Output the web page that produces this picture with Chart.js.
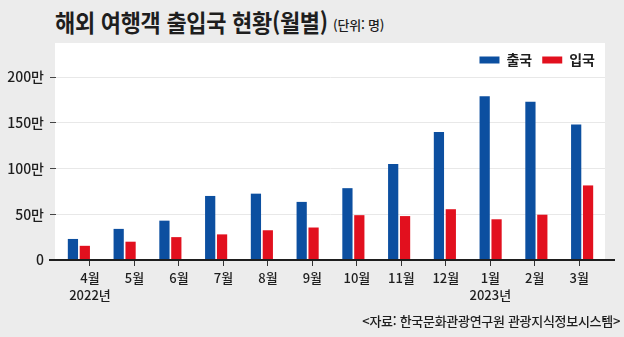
<!DOCTYPE html>
<html lang="ko">
<head>
<meta charset="utf-8">
<title>해외 여행객 출입국 현황(월별)</title>
<script src="https://cdn.jsdelivr.net/npm/chart.js@4.4.1/dist/chart.umd.min.js"></script>
<style>
  html, body { margin: 0; padding: 0; }
  body { width: 624px; height: 337px; background: #ececec; position: relative; overflow: hidden;
         font-family: "Noto Sans CJK KR", "Noto Sans", sans-serif; color: #1e1e1e; }
  #chart { position: absolute; left: 0; top: 0; }
  .title { position: absolute; left: 55px; top: 7px; font-size: 24px; font-weight: 700; line-height: 30px;
           white-space: nowrap; transform: scaleX(0.915); transform-origin: left top; letter-spacing: -0.3px; }
  .unit { position: absolute; left: 333px; top: 16px; font-size: 13px; font-weight: 500; line-height: 18px;
          white-space: nowrap; letter-spacing: -0.2px; }
  .source { position: absolute; right: 4px; top: 312px; font-size: 13px; font-weight: 500; line-height: 18px;
            white-space: nowrap; letter-spacing: -0.3px; }
</style>
</head>
<body>
<div class="title">해외 여행객 출입국 현황(월별)</div>
<div class="unit">(단위: 명)</div>
<canvas id="chart" width="624" height="337"></canvas>
<div class="source">&lt;자료: 한국문화관광연구원 관광지식정보시스템&gt;</div>
<script>
// Monthly categories, April 2022 – March 2023
const months = ['4월', '5월', '6월', '7월', '8월', '9월', '10월', '11월', '12월', '1월', '2월', '3월'];
// Year marker shown under the first month of each year
const yearLabels = ['2022년', '', '', '', '', '', '', '', '', '2023년', '', ''];
// Travellers (persons)
const departures = [230000, 340000, 430000, 700000, 725000, 635000, 785000, 1050000, 1400000, 1790000, 1730000, 1480000];
const arrivals   = [155000, 200000, 250000, 280000, 325000, 355000, 490000, 480000, 555000, 445000, 495000, 815000];
// Value axis ticks, in persons
const valueTicks = [0, 500000, 1000000, 1500000, 2000000];

const BLUE = '#0c4fa0';
const RED = '#e2101e';
const INK = '#1e1e1e';
const FONT = '"Noto Sans CJK KR", "Noto Sans", sans-serif';

// White panel behind the plot and the legend
const panelPlugin = {
  id: 'panel',
  beforeDraw(chart) {
    const { ctx, chartArea } = chart;
    const top = chart.options.layout.padding.top;
    ctx.save();
    ctx.fillStyle = '#ffffff';
    ctx.fillRect(chartArea.left - 1, top, chartArea.right - chartArea.left + 1, chartArea.bottom - top);
    ctx.restore();
  }
};

// Dark base line at zero, running a little past the panel on both sides
const baselinePlugin = {
  id: 'baseline',
  afterDatasetsDraw(chart) {
    const { ctx, chartArea, scales } = chart;
    const y = Math.round(scales.y.getPixelForValue(0));
    ctx.save();
    ctx.strokeStyle = INK;
    ctx.lineWidth = 2;
    ctx.beginPath();
    ctx.moveTo(chartArea.left - 7, y);
    ctx.lineTo(chartArea.right + 10, y);
    ctx.stroke();
    ctx.restore();
  }
};

new Chart(document.getElementById('chart'), {
  type: 'bar',
  data: {
    labels: months,
    datasets: [
      { label: '출국', data: departures, backgroundColor: BLUE },
      { label: '입국', data: arrivals, backgroundColor: RED }
    ]
  },
  options: {
    responsive: false,
    animation: false,
    devicePixelRatio: 1,
    layout: { padding: { top: 43, right: 19, bottom: 0, left: 0 } },
    datasets: { bar: { categoryPercentage: 0.52, barPercentage: 0.86 } },
    plugins: {
      legend: {
        position: 'top',
        align: 'end',
        labels: {
          boxWidth: 20,
          boxHeight: 7,
          padding: 10,
          color: INK,
          font: { family: FONT, size: 14, weight: 'bold' }
        }
      },
      tooltip: { enabled: false },
      title: { display: false }
    },
    scales: {
      x: {
        type: 'category',
        display: false
      },
      // Month axis: its own evenly spaced ticks under the bar pairs
      x2: {
        type: 'linear',
        position: 'bottom',
        offset: false,
        min: -0.764,
        max: 11.578,
        afterFit(scale) { scale.height = 77; },
        border: { display: false },
        grid: { offset: false, drawOnChartArea: false, drawTicks: true, tickLength: 6, tickColor: '#333', tickWidth: 1 },
        ticks: {
          stepSize: 1,
          includeBounds: false,
          autoSkip: false,
          maxRotation: 0,
          padding: 4,
          color: INK,
          font: { family: FONT, size: 13, weight: '500', lineHeight: 1.3 },
          callback(v) {
            if (!Number.isInteger(v) || v < 0 || v >= months.length) return '';
            return yearLabels[v] ? [months[v], yearLabels[v]] : months[v];
          }
        }
      },
      y: {
        min: valueTicks[0],
        max: valueTicks[valueTicks.length - 1],
        afterFit(scale) { scale.width = 56; },
        afterBuildTicks(scale) { scale.ticks = valueTicks.map(v => ({ value: v })); },
        border: { display: false },
        grid: { color: '#e8e8e8', lineWidth: 1, tickLength: 6, tickColor: '#444' },
        ticks: {
          padding: 6,
          color: INK,
          font: { family: FONT, size: 14, weight: '500' },
          callback(v) { return v === 0 ? '0' : (v / 10000) + '만'; }
        }
      }
    }
  },
  plugins: [panelPlugin, baselinePlugin]
});
</script>
</body>
</html>
